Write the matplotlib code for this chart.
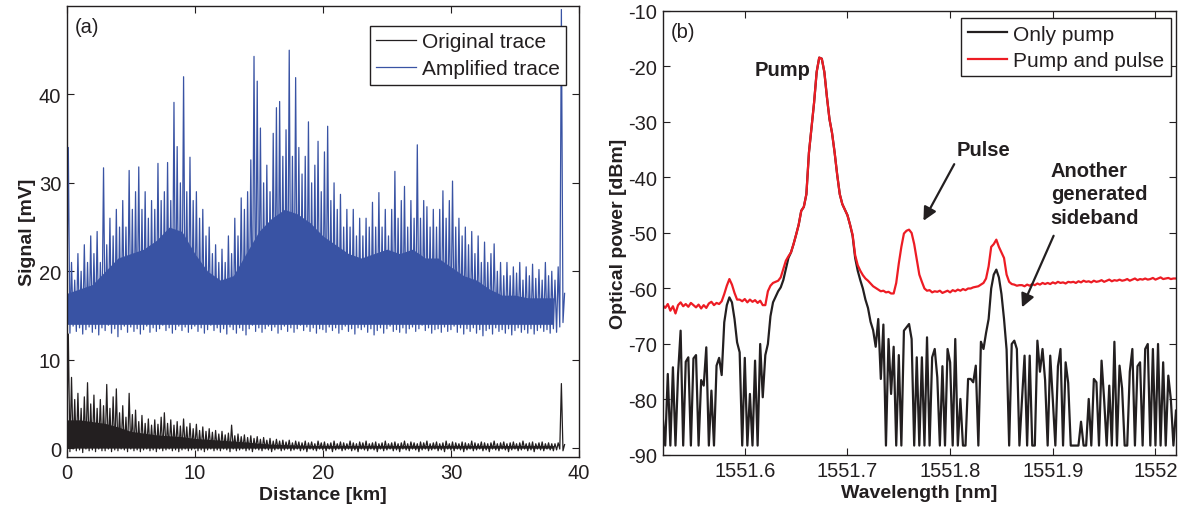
import numpy as np
import matplotlib
matplotlib.use("Agg")
import matplotlib.pyplot as plt

plt.rcParams['font.family'] = ['Liberation Sans', 'DejaVu Sans']
plt.rcParams['axes.unicode_minus'] = False

INK = '#231f20'
BLUE = '#3953a4'
RED = '#ed1c24'

# ---------------- panel (a): OTDR traces, one sample every 0.25 km ----------------
dist = np.arange(156) * 0.25

# amplified trace: spike tops and noise floor [mV], 4 samples per km
amp_peak = [34, 21, 19, 22, 20, 23, 21, 24, 22, 24.5, 21, 31.7, 23, 26, 24, 27,
            25, 28, 25, 31.4, 27, 29, 31.8, 27, 29, 26, 28, 27, 32.2, 28, 29, 32.3,
            28, 39.1, 34.1, 30, 42.0, 29, 32.9, 28, 29, 26, 27, 24, 25, 22, 23, 21,
            22.5, 21, 24, 22, 26, 24, 28.3, 27, 29, 32.6, 44.3, 41.5, 36.2, 30, 32, 29,
            35.6, 38.5, 39.2, 33, 36, 45.0, 33, 41.9, 34, 31, 33, 36.9, 30, 32, 34.7, 29,
            33.5, 36.4, 28, 30, 27, 28.7, 25, 27, 25, 27, 24, 26, 24, 26, 25, 27.8,
            25, 28.9, 25, 27, 24, 27, 31.3, 26, 28, 29.6, 25, 28, 26, 34.3, 26, 28,
            27.3, 25, 27, 25, 27, 29.1, 26, 28, 30.2, 25, 26, 24, 25, 23, 24.5, 22,
            24, 21, 23.3, 21, 22, 23.1, 20, 21, 19.5, 21, 19.5, 20.5, 19.8, 21, 19, 20.5,
            19.5, 20.8, 19.2, 20.2, 19, 21, 19.5, 20, 19, 20.5, 49.6, 17.5]
amp_floor = [13.5, 13.0, 13.8, 13.2, 13.6, 12.9, 13.4, 13.7, 13.1, 13.5, 12.8, 13.6,
             13.3, 13.9, 13.0, 13.5, 12.6, 13.4, 13.8, 13.1, 13.7, 13.2, 13.5, 12.9,
             13.4, 13.8, 13.1, 13.6, 13.2, 13.5, 13.9, 13.3, 13.6, 13.0, 13.4, 13.8,
             13.3, 13.7, 13.1, 13.5, 13.8, 13.2, 13.6, 13.0, 13.4, 13.9, 13.3, 13.6,
             13.1, 13.5, 12.9, 13.7, 13.4, 13.0, 13.6, 13.3, 12.8, 13.5, 13.9, 13.2,
             13.6, 13.1, 13.5, 13.8, 13.3, 13.7, 13.0, 13.4, 13.8, 13.2, 13.6, 13.1,
             13.5, 13.9, 13.3, 13.7, 13.2, 13.6, 13.0, 13.5, 13.4, 13.1, 13.7, 13.3,
             13.6, 13.0, 13.4, 13.8, 13.2, 13.5, 12.9, 13.6, 13.4, 13.7, 13.1, 13.5,
             12.8, 13.3, 13.6, 13.0, 13.5, 13.8, 13.2, 13.4, 13.1, 13.6, 13.0, 13.5,
             13.7, 13.2, 13.5, 13.9, 13.3, 13.6, 13.0, 13.4, 13.5, 13.1, 13.7, 13.2,
             13.4, 13.8, 13.1, 13.6, 12.9, 13.5, 13.2, 13.6, 13.0, 13.4, 12.7, 13.3,
             13.5, 12.9, 13.6, 13.2, 13.4, 13.0, 13.5, 12.8, 13.3, 13.6, 13.1, 13.4,
             13.0, 13.5, 12.9, 13.3, 13.6, 13.2, 13.4, 13.0, 13.5, 13.1, 13.7, 14.2]

# original trace: spike tops and noise floor [mV]
orig_peak = [12.9, 8.0, 5.5, 6.2, 4.5, 5.8, 7.4, 5.0, 6.0, 4.5, 5.5, 4.8, 7.2, 4.5, 5.8, 6.7,
             4.0, 4.8, 3.5, 6.2, 3.8, 4.3, 3.0, 3.7, 2.8, 3.3, 2.6, 3.2, 2.7, 3.5, 4.0, 2.8,
             3.2, 2.6, 3.0, 2.5, 3.3, 2.4, 2.8, 2.2, 2.7, 2.0, 2.4, 1.9, 2.2, 1.8, 2.0, 1.6,
             1.9, 1.5, 1.7, 2.6, 1.4, 1.6, 1.3, 1.5, 1.2, 1.4, 1.1, 1.3, 1.0, 1.2, 0.9, 1.1,
             0.8, 1.0, 0.8, 0.9, 0.7, 0.9, 0.6, 0.8, 0.7, 0.6, 0.8, 0.6, 0.7, 0.5, 0.8, 0.6,
             0.7, 0.5, 0.6, 0.8, 0.5, 0.7, 0.6, 0.5, 0.8, 0.6, 0.5, 0.7, 0.6, 0.8, 0.5, 0.6,
             0.7, 0.5, 0.6, 0.8, 0.5, 0.6, 0.7, 0.5, 0.6, 0.8, 0.5, 0.7, 0.6, 0.5, 0.7, 0.6,
             0.8, 0.5, 0.6, 0.7, 0.5, 0.6, 0.8, 0.5, 0.7, 0.6, 0.5, 0.7, 0.6, 0.5, 0.8, 0.6,
             0.5, 0.7, 0.6, 0.5, 0.6, 0.8, 0.5, 0.6, 0.7, 0.5, 0.6, 0.7, 0.5, 0.6, 0.8, 0.5,
             0.6, 0.7, 0.5, 0.6, 0.7, 0.5, 0.6, 0.5, 0.5, 0.6, 7.3, 0.4]
orig_floor = [-0.2, -0.4, -0.1, -0.3, -0.2, -0.5, -0.1, -0.3, -0.2, -0.4, -0.1, -0.3,
              -0.3, -0.1, -0.4, -0.2, -0.3, -0.1, -0.2, -0.4, -0.1, -0.3, -0.2, -0.4,
              -0.2, -0.1, -0.3, -0.2, -0.4, -0.1, -0.3, -0.2, -0.1, -0.3, -0.2, -0.4,
              -0.2, -0.1, -0.3, -0.2, -0.1, -0.3, -0.2, -0.4, -0.2, -0.1, -0.3, -0.2,
              -0.3, -0.1, -0.2, -0.4, -0.1, -0.3, -0.2, -0.1, -0.3, -0.2, -0.4, -0.1,
              -0.2, -0.3, -0.1, -0.2, -0.4, -0.2, -0.1, -0.3, -0.2, -0.1, -0.3, -0.2,
              -0.1, -0.3, -0.2, -0.4, -0.1, -0.2, -0.3, -0.1, -0.2, -0.3, -0.1, -0.4,
              -0.2, -0.1, -0.3, -0.2, -0.1, -0.3, -0.2, -0.4, -0.1, -0.2, -0.3, -0.1,
              -0.2, -0.4, -0.1, -0.3, -0.2, -0.1, -0.3, -0.2, -0.4, -0.1, -0.2, -0.3,
              -0.1, -0.2, -0.4, -0.2, -0.1, -0.3, -0.2, -0.1, -0.3, -0.2, -0.4, -0.1,
              -0.2, -0.3, -0.1, -0.2, -0.4, -0.2, -0.1, -0.3, -0.2, -0.1, -0.3, -0.2,
              -0.4, -0.1, -0.2, -0.3, -0.1, -0.2, -0.4, -0.2, -0.1, -0.3, -0.2, -0.1,
              -0.3, -0.2, -0.4, -0.1, -0.2, -0.3, -0.1, -0.2, -0.3, -0.2, -0.1, -0.3]

# level up to which the dense noise looks solid, read once per km (0..38 km)
km = np.arange(39)
amp_body = [17.5, 18, 18.5, 20, 21.5, 22, 22.5, 23.5, 25, 24.5, 22, 20, 19, 19.5, 22,
            24.5, 26, 27, 26.5, 25.5, 24, 23, 22, 21.5, 22, 22.5, 22, 22.5, 21.5, 21.5,
            20.5, 19.5, 19, 18, 17.3, 17.3, 17, 17, 17]
orig_body = [3.2, 3.2, 3.0, 2.8, 2.4, 1.9, 1.7, 1.5, 1.4, 1.3, 1.1, 1.0, 0.9, 0.8, 0.7,
             0.55, 0.45, 0.4, 0.35, 0.3, 0.3, 0.3, 0.3, 0.3, 0.3, 0.3, 0.3, 0.3,
             0.3, 0.3, 0.3, 0.3, 0.3, 0.3, 0.3, 0.3, 0.3, 0.3, 0.3]

# ---------------- panel (b): optical spectra, 0.0025 nm sampling ----------------
wl = np.linspace(1551.52, 1552.02, 201)
only_pump = [-83.0, -88.3, -75.4, -88.3, -74.2, -88.3, -75.4, -67.6, -88.3, -73.2,
             -72.4, -88.3, -72.6, -72.0, -88.3, -76.5, -77.5, -70.6, -88.3, -78.4,
             -88.3, -73.9, -72.5, -75.6, -66.1, -63.0, -61.6, -62.5, -65.5, -69.7,
             -71.5, -88.3, -72.5, -88.3, -79.0, -88.3, -73.0, -88.3, -70.0, -79.6,
             -72.0, -70.0, -65.0, -62.5, -61.5, -60.5, -59.8, -58.5, -56.5, -54.5,
             -53.5, -52.0, -50.3, -48.5, -46.0, -45.3, -43.0, -35.5, -31.0, -26.5,
             -21.0, -18.4, -18.6, -21.0, -25.5, -29.5, -32.0, -35.5, -39.5, -43.0,
             -44.8, -45.8, -46.8, -48.5, -50.5, -54.5, -56.8, -58.5, -60.0, -62.0,
             -63.5, -66.0, -67.5, -70.5, -65.5, -76.3, -66.5, -88.3, -69.1, -79.0,
             -70.5, -88.3, -72.0, -88.3, -67.6, -67.0, -66.4, -69.1, -88.3, -72.4,
             -88.3, -72.4, -88.3, -68.8, -88.3, -72.4, -70.9, -76.0, -88.3, -74.0,
             -88.3, -70.9, -73.3, -88.3, -69.1, -88.3, -79.9, -88.3, -88.3, -76.3,
             -76.3, -76.9, -73.9, -88.3, -69.6, -70.9, -68.0, -65.5, -60.0, -57.5,
             -56.6, -58.0, -61.0, -65.5, -71.0, -88.3, -70.0, -69.4, -70.9, -88.3,
             -80.0, -72.1, -88.3, -72.1, -88.3, -88.3, -69.4, -75.0, -70.9, -76.5,
             -88.3, -72.1, -80.0, -88.3, -74.0, -70.9, -88.3, -73.3, -77.0, -88.3,
             -88.3, -88.3, -88.3, -84.0, -88.3, -88.3, -79.9, -88.3, -76.3, -76.9,
             -88.3, -73.0, -80.0, -88.3, -77.5, -88.3, -69.6, -88.3, -73.9, -78.0,
             -88.3, -88.3, -75.0, -70.9, -88.3, -74.0, -73.3, -88.3, -70.9, -70.0,
             -88.3, -70.9, -88.3, -70.0, -88.3, -73.3, -88.3, -75.7, -80.0, -88.3,
             -82.0]
pump_pulse = [-63.0, -63.5, -62.8, -64.0, -63.2, -64.5, -63.0, -62.5, -63.2, -62.8,
              -63.3, -62.6, -63.0, -63.4, -62.9, -63.6, -63.0, -63.5, -62.7, -62.4,
              -63.0, -62.6, -62.8, -62.3, -61.0, -59.5, -58.3, -59.3, -60.8, -62.0,
              -62.0, -62.3, -61.9, -62.5, -62.0, -62.4, -62.1, -62.6, -62.2, -63.0,
              -63.0, -60.5, -59.5, -59.0, -58.8, -58.6, -58.0, -56.5, -55.0, -54.2,
              -53.5, -52.0, -50.3, -48.5, -46.0, -45.3, -43.0, -35.5, -31.0, -26.5,
              -21.0, -18.4, -18.6, -21.0, -25.5, -29.5, -32.0, -35.5, -39.5, -43.0,
              -44.8, -45.8, -46.8, -48.5, -50.3, -54.0, -55.8, -56.8, -57.6, -58.2,
              -58.6, -59.1, -59.6, -59.9, -60.2, -60.5, -60.4, -60.7, -60.6, -60.9,
              -60.9, -59.0, -55.5, -52.5, -50.1, -49.6, -49.4, -50.0, -52.0, -54.7,
              -57.5, -58.8, -60.0, -60.4, -60.3, -60.7, -60.5, -60.6, -60.4, -60.8,
              -60.6, -60.4, -60.7, -60.3, -60.5, -60.2, -60.4, -60.1, -60.3, -60.0,
              -60.0, -59.8, -59.7, -59.6, -59.3, -59.0, -58.2, -56.0, -52.5, -52.0,
              -51.2, -52.5, -53.5, -54.5, -57.5, -58.8, -59.2, -59.3, -59.5, -59.4,
              -59.4, -59.6, -59.3, -59.5, -59.2, -59.4, -59.1, -59.3, -59.0, -59.2,
              -59.0, -59.2, -58.9, -59.1, -58.8, -59.0, -58.9, -59.1, -58.8, -58.9,
              -58.8, -59.0, -58.7, -58.9, -58.6, -58.8, -58.7, -58.9, -58.6, -58.8,
              -58.7, -58.5, -58.8, -58.6, -58.4, -58.7, -58.5, -58.6, -58.4, -58.6,
              -58.5, -58.3, -58.6, -58.4, -58.2, -58.5, -58.3, -58.4, -58.2, -58.4,
              -58.3, -58.1, -58.4, -58.2, -58.0, -58.3, -58.2, -58.1, -58.3, -58.2,
              -58.2]

wl_ticks = [1551.6, 1551.7, 1551.8, 1551.9, 1552.0]
wl_labels = ['1551.6', '1551.7', '1551.8', '1551.9', '1552']


def style_axes(ax):
    ax.tick_params(direction='in', length=5, width=0.8, top=True, right=True,
                   labelsize=14.5, colors=INK, pad=4)
    for s in ax.spines.values():
        s.set_linewidth(1.0)
        s.set_color(INK)


fig = plt.figure(figsize=(11.85, 5.1), dpi=100)

# ---- (a)
ax1 = fig.add_axes([0.0563, 0.102, 0.4323, 0.8843])
amp_x = np.column_stack([dist, dist + 0.125]).ravel()
amp_y = np.column_stack([amp_floor, amp_peak]).ravel()
orig_y = np.column_stack([orig_floor, orig_peak]).ravel()
# solid part of the noise band, the jagged edges come from the traces drawn on top
ax1.fill_between(km, 14.0, amp_body, color=BLUE, lw=0)
ax1.fill_between(km, 0.0, orig_body, color=INK, lw=0)
ax1.plot(amp_x, orig_y, color=INK, lw=0.9, label='Original trace')
ax1.plot(amp_x, amp_y, color=BLUE, lw=0.9, label='Amplified trace')
ax1.set_xlim(0, 40)
ax1.set_ylim(-1, 50)
ax1.set_xticks([0, 10, 20, 30, 40])
ax1.set_yticks([0, 10, 20, 30, 40])
style_axes(ax1)
ax1.set_xlabel('Distance [km]', fontsize=14, fontweight='bold', color=INK, labelpad=3)
ax1.set_ylabel('Signal [mV]', fontsize=14, fontweight='bold', color=INK, labelpad=2)
ax1.text(0.016, 0.975, '(a)', transform=ax1.transAxes, fontsize=14.5,
         color=INK, va='top', ha='left')
leg1 = ax1.legend(loc='upper right', bbox_to_anchor=(0.975, 0.956), borderaxespad=0,
                  fontsize=15, fancybox=False, framealpha=1, edgecolor=INK,
                  handlelength=1.9, handletextpad=0.3, labelspacing=0.4,
                  borderpad=0.3)
leg1.get_frame().set_linewidth(1.0)
for t in leg1.get_texts():
    t.set_color(INK)

# ---- (b)
ax2 = fig.add_axes([0.5592, 0.1059, 0.4332, 0.8706])
ax2.plot(wl, only_pump, color=INK, lw=1.6, label='Only pump')
ax2.plot(wl, pump_pulse, color=RED, lw=1.6, label='Pump and pulse')
ax2.set_xlim(1551.52, 1552.02)
ax2.set_ylim(-90, -10)
ax2.set_xticks(wl_ticks)
ax2.set_xticklabels(wl_labels)
ax2.set_yticks(np.arange(-90, -5, 10))
style_axes(ax2)
ax2.set_xlabel('Wavelength [nm]', fontsize=14, fontweight='bold', color=INK, labelpad=3)
ax2.set_ylabel('Optical power [dBm]', fontsize=14, fontweight='bold', color=INK, labelpad=1)
ax2.text(0.016, 0.975, '(b)', transform=ax2.transAxes, fontsize=14.5,
         color=INK, va='top', ha='left')
leg2 = ax2.legend(loc='upper right', bbox_to_anchor=(0.990, 0.9835), borderaxespad=0,
                  fontsize=15, fancybox=False, framealpha=1, edgecolor=INK,
                  handlelength=1.9, handletextpad=0.3, labelspacing=0.35,
                  borderpad=0.3)
leg2.get_frame().set_linewidth(1.0)
for t in leg2.get_texts():
    t.set_color(INK)

ax2.text(1551.6636, -20.6, 'Pump', fontsize=14.5, fontweight='bold', color=INK,
         ha='right', va='center')
ax2.text(1551.806, -34.9, 'Pulse', fontsize=14.5, fontweight='bold', color=INK,
         ha='left', va='center')
ax2.annotate('', xy=(1551.774, -47.8), xytext=(1551.804, -37.6),
             arrowprops=dict(arrowstyle='-|>', color=INK, lw=1.6,
                             mutation_scale=20, shrinkA=0, shrinkB=0))
ax2.text(1551.898, -37.0, 'Another\ngenerated\nsideband', fontsize=14.5,
         fontweight='bold', color=INK, ha='left', va='top', linespacing=1.3)
ax2.annotate('', xy=(1551.870, -63.4), xytext=(1551.9008, -50.5),
             arrowprops=dict(arrowstyle='-|>', color=INK, lw=1.6,
                             mutation_scale=20, shrinkA=0, shrinkB=0))

fig.savefig('out.png', dpi=100)
